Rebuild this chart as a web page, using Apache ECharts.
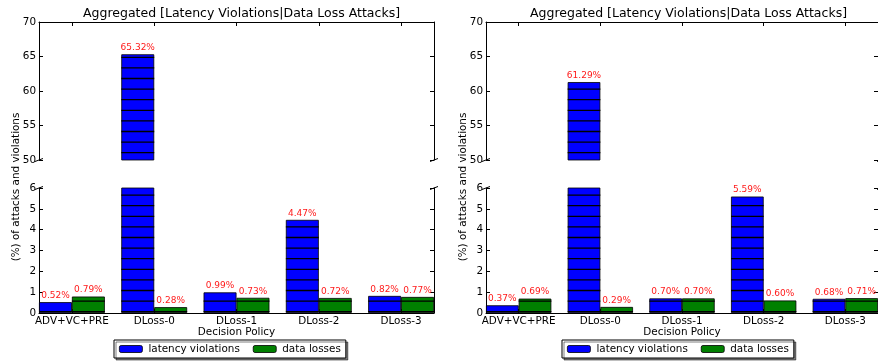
<!DOCTYPE html>
<html>
<head>
<meta charset="utf-8">
<script src="https://cdn.jsdelivr.net/npm/echarts@6/dist/echarts.min.js"></script>
<style>
html,body{margin:0;padding:0;background:#fff;}
#chart{width:878px;height:362px;}
</style>
</head>
<body>
<div id="chart"></div>
<script>
// ---- data ----
const categories = ['ADV+VC+PRE', 'DLoss-0', 'DLoss-1', 'DLoss-2', 'DLoss-3'];
const leftLatency  = [0.52, 65.32, 0.99, 4.47, 0.82];
const leftLoss     = [0.79, 0.28, 0.73, 0.72, 0.77];
const rightLatency = [0.37, 61.29, 0.70, 5.59, 0.68];
const rightLoss    = [0.69, 0.29, 0.70, 0.60, 0.71];
const upperTicks = [50, 55, 60, 65, 70];
const lowerTicks = [0, 1, 2, 3, 4, 5, 6];
const titleText = 'Aggregated [Latency Violations|Data Loss Attacks]';
const yName = '(%) of attacks and violations';
const xName = 'Decision Policy';
const seriesNames = ['latency violations', 'data losses'];

// ---- style ----
const FONT = 'DejaVu Sans';
const BLUE = '#0000ff', GREEN = '#008000', LABEL_RED = '#ff1a1a';
const HATCH_STEP = 10.6, HATCH_PHASE = 4.3;
const panels = [
  {left: 39, lat: leftLatency, loss: leftLoss, legendLeft: 114},
  {left: 486, lat: rightLatency, loss: rightLoss, legendLeft: 562}
];
const GW = 395, UT = 22, UH = 138, LT = 188, LH = 125;

const chart = echarts.init(document.getElementById('chart'), null, {renderer: 'canvas'});

const grid = [], xAxis = [], yAxis = [], series = [], title = [], legend = [], graphic = [];
const catIdx = categories.map((c, i) => i);

function hatchRenderer(off0, off1) {
  return function (params, api) {
    const i = api.value(0), v = api.value(1);
    const cs = params.coordSys;
    const pTop = api.coord([i + off0, v]);
    const pBase = api.coord([i + off1, 0]);
    const top = Math.max(pTop[1], cs.y);
    const bottom = Math.min(pBase[1], cs.y + cs.height);
    const children = [];
    if (bottom > top) {
      for (let y = HATCH_PHASE; y < bottom; y += HATCH_STEP) {
        if (y > top + 1.5 && y < bottom - 1) {
          children.push({type: 'line', shape: {x1: pTop[0], y1: y, x2: pBase[0], y2: y},
            style: {stroke: '#000', lineWidth: 1.3}});
        }
      }
    }
    return {type: 'group', children: children, silent: true};
  };
}

panels.forEach((p, pi) => {
  const parts = [
    {top: UT, height: UH, ticks: upperTicks, upper: true},
    {top: LT, height: LH, ticks: lowerTicks, upper: false}
  ];
  parts.forEach((part) => {
    const gi = grid.length;
    grid.push({left: p.left, top: part.top, width: GW, height: part.height, containLabel: false});
    const tmin = part.ticks[0], tmax = part.ticks[part.ticks.length - 1];
    const interval = part.ticks[1] - part.ticks[0];
    xAxis.push({
      type: 'value', gridIndex: gi, min: -0.4, max: 4.4,
      position: part.upper ? 'top' : 'bottom',
      splitLine: {show: false},
      axisLine: {show: true, onZero: false, lineStyle: {color: '#000', width: 1}},
      axisTick: {show: true, inside: true, length: 4, customValues: catIdx, lineStyle: {color: '#000'}},
      axisLabel: part.upper ? {show: false} : {
        show: true, customValues: catIdx, margin: 3,
        formatter: (v) => categories[Math.round(v)] || '',
        fontFamily: FONT, fontSize: 10.4, color: '#000'
      },
      name: part.upper ? '' : xName,
      nameLocation: 'middle', nameGap: 13,
      nameTextStyle: {fontFamily: FONT, fontSize: 10.4, color: '#000'}
    });
    const yl = yAxis.length;
    yAxis.push({
      type: 'value', gridIndex: gi, min: tmin, max: tmax, interval: interval,
      position: 'left',
      splitLine: {show: false},
      axisLine: {show: true, onZero: false, lineStyle: {color: '#000', width: 1}},
      axisTick: {show: true, inside: true, length: 4, lineStyle: {color: '#000'}},
      axisLabel: {show: true, margin: 3, fontFamily: FONT, fontSize: 10.4, color: '#000'}
    });
    yAxis.push({
      type: 'value', gridIndex: gi, min: tmin, max: tmax, interval: interval,
      position: 'right',
      splitLine: {show: false},
      axisLine: {show: true, onZero: false, lineStyle: {color: '#000', width: 1}},
      axisTick: {show: true, inside: true, length: 4, lineStyle: {color: '#000'}},
      axisLabel: {show: false}
    });
    const defs = [[p.lat, BLUE, seriesNames[0], -0.4, 0], [p.loss, GREEN, seriesNames[1], 0, 0.4]];
    defs.forEach(([vals, col, nm]) => {
      series.push({
        type: 'bar', name: nm, xAxisIndex: gi, yAxisIndex: yl,
        data: vals.map((v, i) => [i, v]),
        barWidth: '40%', barGap: '0%', clip: true,
        itemStyle: {color: col, borderColor: '#000', borderWidth: 0.8},
        label: {
          show: true, position: 'top', distance: 2,
          fontFamily: FONT, fontSize: 9, color: LABEL_RED,
          formatter: (prm) => prm.value[1] > tmax ? '' : prm.value[1].toFixed(2) + '%'
        },
        emphasis: {disabled: true},
        animation: false
      });
    });
    defs.forEach(([vals, col, nm, o0, o1]) => {
      series.push({
        type: 'custom', xAxisIndex: gi, yAxisIndex: yl, clip: true,
        data: vals.map((v, i) => [i, v]),
        renderItem: hatchRenderer(o0, o1),
        silent: true, animation: false, z: 3
      });
    });
    // broken-axis slashes
    const yb = part.upper ? part.top + part.height : part.top;
    [p.left, p.left + GW].forEach((xb) => {
      graphic.push({type: 'line', shape: {x1: xb - 4, y1: yb + 1.5, x2: xb + 4, y2: yb - 1.5},
        style: {stroke: '#000', lineWidth: 1}, silent: true});
    });
  });
  title.push({
    text: titleText, left: p.left + GW / 2, top: 2, textAlign: 'center',
    textStyle: {fontFamily: FONT, fontSize: 12.5, fontWeight: 'normal', color: '#000'}
  });
  legend.push({
    data: seriesNames, left: p.legendLeft, top: 340,
    orient: 'horizontal', itemWidth: 23, itemHeight: 7, itemGap: 13,
    padding: [4, 5, 4, 5], backgroundColor: '#fff',
    borderColor: '#000', borderWidth: 1, borderRadius: 0,
    shadowColor: 'rgba(0,0,0,0.5)', shadowOffsetX: 2, shadowOffsetY: 2, shadowBlur: 0,
    itemStyle: {borderColor: '#000', borderWidth: 0.8},
    textStyle: {fontFamily: FONT, fontSize: 10.4, color: '#000', padding: [0, 0, 0, 1]},
    selectedMode: false
  });
  graphic.push({
    type: 'text', x: p.left - 23, y: 187, rotation: Math.PI / 2,
    style: {text: yName, font: '10.4px "DejaVu Sans"', fill: '#000', textAlign: 'center', textVerticalAlign: 'middle'},
    silent: true
  });
});

chart.setOption({
  backgroundColor: '#fff',
  animation: false,
  title, legend, grid, xAxis, yAxis, series, graphic
});
</script>
</body>
</html>
